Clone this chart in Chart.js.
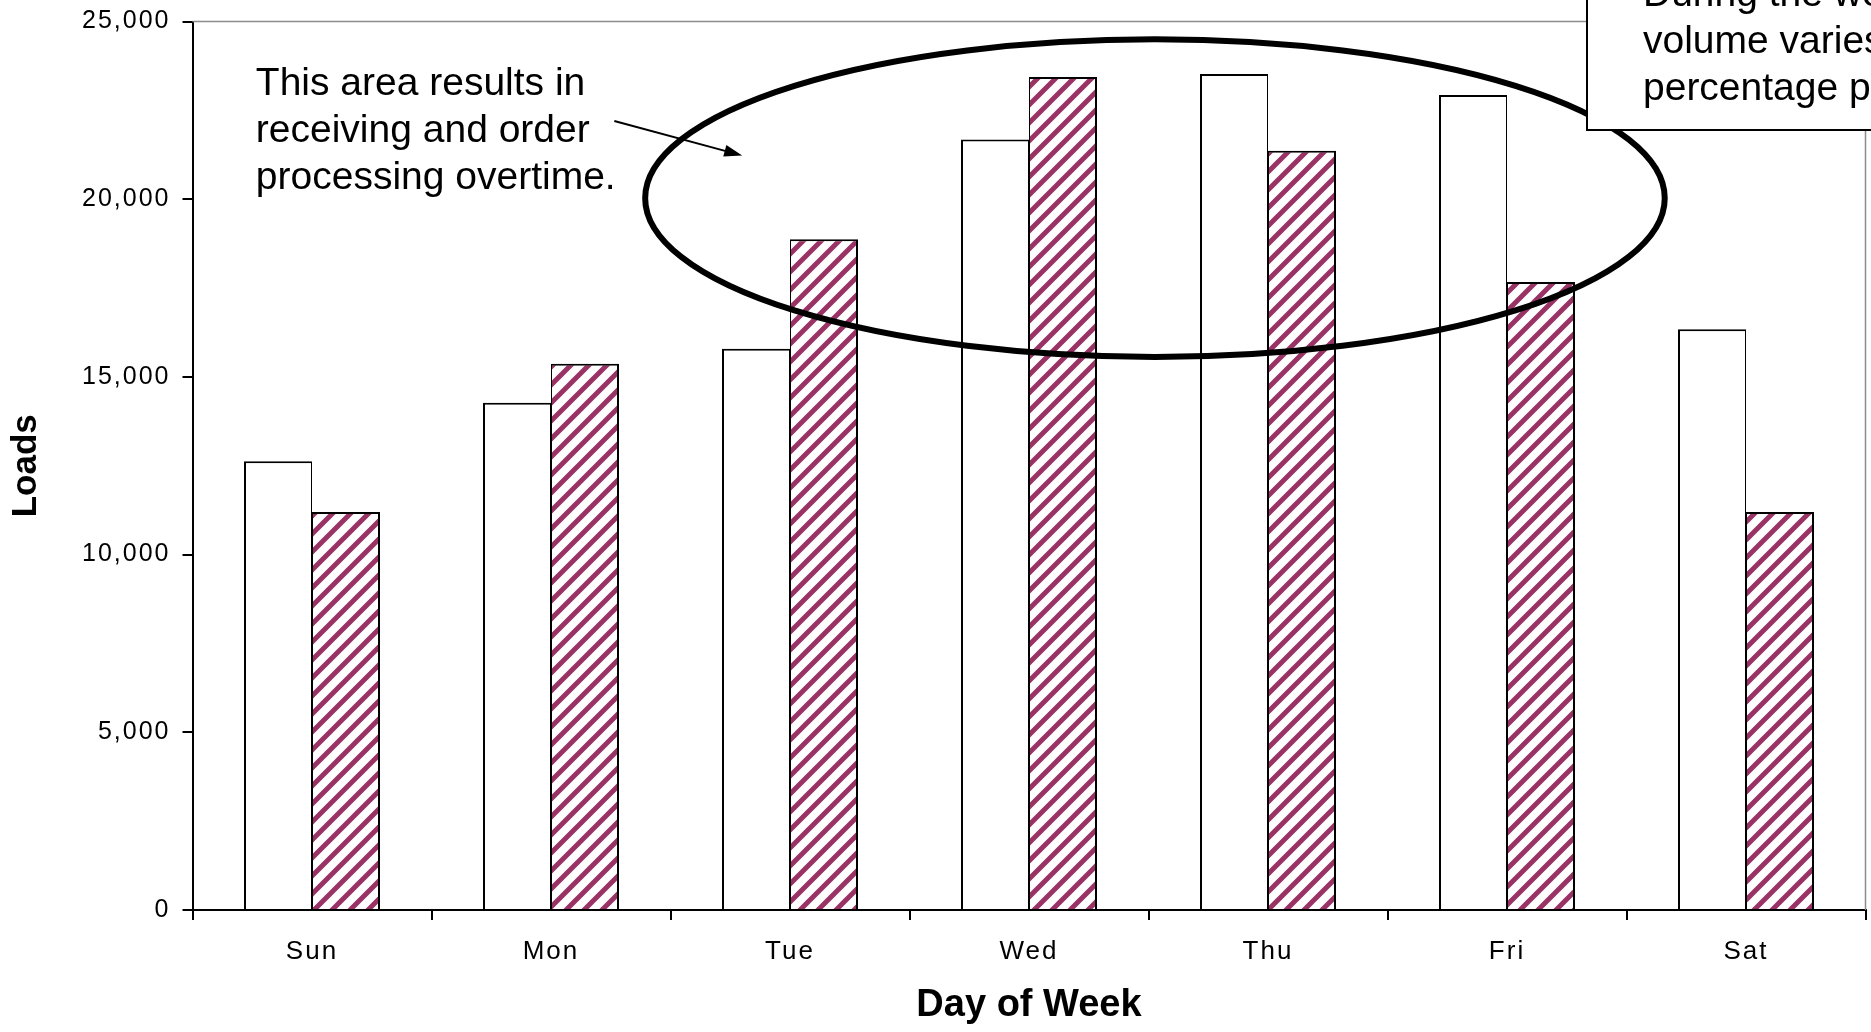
<!DOCTYPE html>
<html>
<head>
<meta charset="utf-8">
<script src="https://cdn.jsdelivr.net/npm/chart.js@4"></script>
<style>
  html, body { margin: 0; padding: 0; background: #fff; }
  #wrap { width: 1871px; height: 1032px; position: relative; }
</style>
</head>
<body>
<div id="wrap"><canvas id="chart"></canvas></div>
<script>
const days = ['Sun', 'Mon', 'Tue', 'Wed', 'Thu', 'Fri', 'Sat'];
const loadsPlain = [12630, 14270, 15790, 21680, 23520, 22930, 16340];
const loadsHatched = [11200, 15370, 18870, 23440, 21360, 17670, 11200];
const yTicks = [0, 5000, 10000, 15000, 20000, 25000];

const noteLeft = ['This area results in', 'receiving and order', 'processing overtime.'];
const noteBox = ['During the week,', 'volume varies by a', 'percentage point'];

const FONT = '"Liberation Sans", Arial, sans-serif';

function hatch(color) {
  const c = document.createElement('canvas');
  c.width = 18; c.height = 18;
  const g = c.getContext('2d');
  g.fillStyle = '#fff';
  g.fillRect(0, 0, 18, 18);
  g.strokeStyle = color;
  g.lineWidth = 5;
  g.beginPath();
  g.moveTo(-2, 20); g.lineTo(20, -2);
  g.moveTo(-2, 2); g.lineTo(2, -2);
  g.moveTo(16, 20); g.lineTo(20, 16);
  g.stroke();
  return g.createPattern(c, 'repeat');
}

// letter spacing for tick labels only (ticks are drawn after the datasets)
const spacing = {
  id: 'spacing',
  afterDatasetsDraw(chart) { chart.ctx.letterSpacing = '2px'; },
  afterDraw(chart) { chart.ctx.letterSpacing = '0px'; }
};

const notes = {
  id: 'notes',
  afterDraw(chart) {
    const ctx = chart.ctx;
    const x = chart.scales.x, y = chart.scales.y;
    const a = chart.chartArea;
    ctx.save();
    ctx.letterSpacing = '0px';

    // plot frame top / right
    ctx.strokeStyle = '#8c8c8c';
    ctx.lineWidth = 1.5;
    ctx.beginPath();
    ctx.moveTo(a.left, a.top); ctx.lineTo(a.right, a.top); ctx.lineTo(a.right, a.bottom);
    ctx.stroke();

    // ellipse round the peak
    const cx = x.getPixelForValue(3.527), cy = y.getPixelForValue(20030);
    const rx = x.getPixelForValue(5.66) - cx;
    const ry = cy - y.getPixelForValue(24500);
    ctx.strokeStyle = '#000';
    ctx.lineWidth = 6;
    ctx.beginPath();
    ctx.ellipse(cx, cy, rx, ry, 0, 0, Math.PI * 2);
    ctx.stroke();

    // left note
    ctx.fillStyle = '#000';
    ctx.font = '39px ' + FONT;
    ctx.textAlign = 'left';
    ctx.textBaseline = 'alphabetic';
    const tx = x.getPixelForValue(-0.235);
    noteLeft.forEach((t, i) => ctx.fillText(t, tx, y.getPixelForValue(22940) + i * 47));

    // arrow
    const x1 = x.getPixelForValue(1.265), y1 = y.getPixelForValue(22200);
    const x2 = x.getPixelForValue(1.80), y2 = y.getPixelForValue(21230);
    const ang = Math.atan2(y2 - y1, x2 - x1);
    ctx.lineWidth = 2;
    ctx.beginPath();
    ctx.moveTo(x1, y1); ctx.lineTo(x2 - 12 * Math.cos(ang), y2 - 12 * Math.sin(ang));
    ctx.stroke();
    ctx.beginPath();
    ctx.moveTo(x2, y2);
    ctx.lineTo(x2 - 18 * Math.cos(ang) + 6 * Math.sin(ang), y2 - 18 * Math.sin(ang) - 6 * Math.cos(ang));
    ctx.lineTo(x2 - 18 * Math.cos(ang) - 6 * Math.sin(ang), y2 - 18 * Math.sin(ang) + 6 * Math.cos(ang));
    ctx.closePath();
    ctx.fill();

    // box at top right, running off the page
    const bx = Math.round(x.getPixelForValue(5.335));
    const bb = Math.round(y.getPixelForValue(21960));
    ctx.fillStyle = '#fff';
    ctx.fillRect(bx, -10, chart.width + 20 - bx, bb + 10);
    ctx.strokeStyle = '#000';
    ctx.lineWidth = 2;
    ctx.strokeRect(bx, -10, chart.width + 20 - bx, bb + 10);
    ctx.fillStyle = '#000';
    noteBox.forEach((t, i) => ctx.fillText(t, bx + 56, 6 + i * 47));
    ctx.restore();
  }
};

new Chart(document.getElementById('chart'), {
  type: 'bar',
  data: {
    labels: days,
    datasets: [{
      label: 'Loads (plain)',
      data: loadsPlain,
      backgroundColor: '#fff',
      borderColor: '#000',
      borderWidth: { top: 2, left: 2, right: 1, bottom: 0 }
    }, {
      label: 'Loads (hatched)',
      data: loadsHatched,
      backgroundColor: hatch('#993366'),
      borderColor: '#000',
      borderWidth: { top: 2, left: 1, right: 2, bottom: 0 }
    }]
  },
  options: {
    responsive: true,
    maintainAspectRatio: false,
    animation: false,
    layout: { padding: { top: 21.5, right: 5.5, left: 0, bottom: 0 } },
    categoryPercentage: 136 / 239,
    barPercentage: 1.0,
    plugins: {
      legend: { display: false },
      tooltip: { enabled: false }
    },
    scales: {
      x: {
        grid: { drawOnChartArea: false, color: '#000', lineWidth: 2, tickLength: 10 },
        border: { color: '#000', width: 2 },
        ticks: { color: '#000', font: { family: FONT, size: 26 }, padding: 16, z: 1 },
        title: {
          display: true, text: 'Day of Week', color: '#000',
          font: { family: FONT, size: 38, weight: 'bold' },
          padding: { top: 0, bottom: 4 }
        },
        afterFit(s) { s.height = 122; }
      },
      y: {
        min: 0, max: 25000,
        afterBuildTicks(s) { s.ticks = yTicks.map(v => ({ value: v })); },
        grid: { drawOnChartArea: false, color: '#000', lineWidth: 2, tickLength: 10 },
        border: { color: '#000', width: 2 },
        ticks: {
          color: '#000', font: { family: FONT, size: 25, lineHeight: 0.75 }, padding: 12, z: 1,
          callback: v => v.toLocaleString('en-US')
        },
        title: {
          display: true, text: 'Loads', color: '#000',
          font: { family: FONT, size: 35, weight: 'bold' },
          padding: { top: 5, bottom: 0 }
        },
        afterFit(s) { s.width = 192.5; }
      }
    }
  },
  plugins: [spacing, notes]
});
</script>
</body>
</html>
